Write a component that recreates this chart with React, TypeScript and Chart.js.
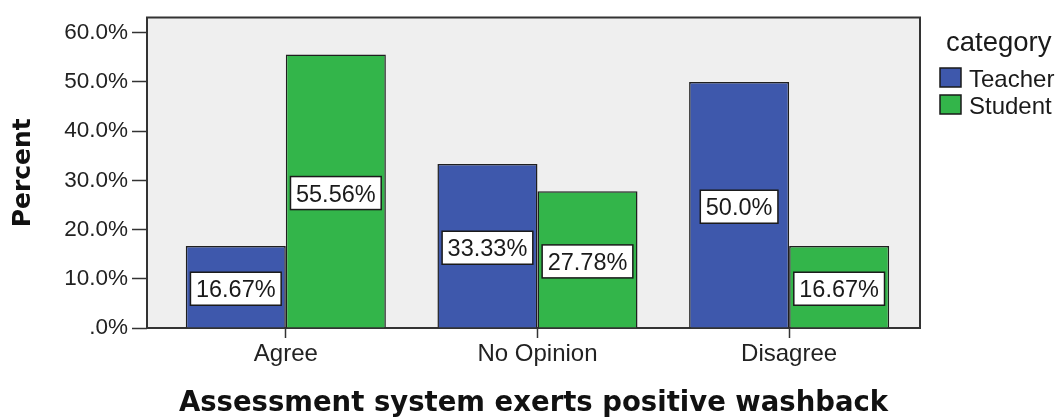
import React, { useEffect, useRef } from 'react';
import { Chart, registerables } from 'chart.js';

Chart.register(...registerables);

const categories = ['Agree', 'No Opinion', 'Disagree'];
const seriesNames = ['Teacher', 'Student'];
const teacherValues = [16.67, 33.33, 50.0];
const studentValues = [55.56, 27.78, 16.67];
const seriesColors = ['#3e58ac', '#33b54a'];
const yTickValues = [0, 10, 20, 30, 40, 50, 60];
const legendTitle = 'category';
const xTitle = 'Assessment system exerts positive washback';
const yTitle = 'Percent';

const fmtValue = (v: number) => (Number.isInteger(v) ? v.toFixed(1) : v.toFixed(2)) + '%';
const fmtTick = (v: number) => (v === 0 ? '.0%' : v.toFixed(1) + '%');

const SANS = '"Liberation Sans", Arial, sans-serif';
const BOLD = '"DejaVu Sans", sans-serif';

const bgPlugin = {
  id: 'bgFrame',
  beforeDraw(chart: any) {
    const { ctx, chartArea } = chart;
    const { left, top, right, bottom } = chartArea;
    ctx.save();
    ctx.fillStyle = '#efefef';
    ctx.fillRect(left, top, right - left, bottom - top);
    ctx.restore();
  },
  beforeDatasetsDraw(chart: any) {
    const { ctx, chartArea } = chart;
    const { left, top, right, bottom } = chartArea;
    ctx.save();
    ctx.strokeStyle = '#333';
    ctx.lineWidth = 2;
    ctx.strokeRect(left, top, right - left, bottom - top);
    ctx.restore();
  },
};

const labelPlugin = {
  id: 'valueBoxes',
  afterDatasetsDraw(chart: any) {
    const { ctx } = chart;
    ctx.save();
    ctx.font = `23.5px ${SANS}`;
    chart.data.datasets.forEach((ds: any, di: number) => {
      const meta = chart.getDatasetMeta(di);
      meta.data.forEach((el: any, i: number) => {
        const v = ds.data[i].y;
        const text = fmtValue(v);
        const cx = el.x;
        const cy = (el.y + el.base) / 2 + 2;
        const w = ctx.measureText(text).width + 11;
        const h = 33;
        ctx.fillStyle = '#ffffff';
        ctx.fillRect(cx - w / 2, cy - h / 2, w, h);
        ctx.strokeStyle = '#1a1a1a';
        ctx.lineWidth = 1.5;
        ctx.strokeRect(cx - w / 2, cy - h / 2, w, h);
        ctx.fillStyle = '#1a1a1a';
        ctx.textAlign = 'center';
        ctx.textBaseline = 'middle';
        ctx.fillText(text, cx, cy + 2);
      });
    });
    ctx.restore();
  },
};

const legendPlugin = {
  id: 'customLegend',
  afterDraw(chart: any) {
    const { ctx } = chart;
    ctx.save();
    ctx.fillStyle = '#1a1a1a';
    ctx.textAlign = 'left';
    ctx.textBaseline = 'alphabetic';
    ctx.font = `27.5px ${SANS}`;
    ctx.fillText(legendTitle, 946, 51);
    ctx.font = `24px ${SANS}`;
    chart.data.datasets.forEach((ds: any, i: number) => {
      const y0 = 68 + i * 27;
      ctx.fillStyle = ds.backgroundColor;
      ctx.fillRect(940, y0, 21, 19);
      ctx.strokeStyle = '#1a1a1a';
      ctx.lineWidth = 1.5;
      ctx.strokeRect(940, y0, 21, 19);
      ctx.fillStyle = '#1a1a1a';
      ctx.fillText(ds.label, 969, y0 + 19);
    });
    ctx.restore();
  },
};

export default function App() {
  const canvasRef = useRef<HTMLCanvasElement | null>(null);

  useEffect(() => {
    document.body.style.margin = '0';
    const canvas = canvasRef.current;
    if (!canvas) return;
    const seriesValues = [teacherValues, studentValues];
    const chart = new Chart(canvas, {
      type: 'bar',
      data: {
        datasets: seriesNames.map((name, si) => ({
          label: name,
          data: seriesValues[si].map((v, i) => ({ x: i, y: v })),
          backgroundColor: seriesColors[si],
          borderColor: '#1f1f1f',
          borderWidth: 1.5,
          categoryPercentage: 0.795,
          barPercentage: 1.0,
        })),
      },
      options: {
        animation: false,
        responsive: false,
        devicePixelRatio: 1,
        layout: { padding: { left: 0, right: 137, top: 14, bottom: 0 } },
        plugins: {
          legend: { display: false },
          tooltip: { enabled: false },
        },
        scales: {
          x: {
            type: 'linear',
            min: -0.5516,
            max: 2.52,
            offset: false,
            afterBuildTicks: (s: any) => {
              s.ticks = categories.map((_, i) => ({ value: i }));
            },
            afterFit: (s: any) => {
              s.height = 90;
            },
            ticks: {
              callback: (v: any) => categories[v] ?? '',
              font: { family: SANS, size: 24 },
              color: '#222',
              padding: 2,
              maxRotation: 0,
              autoSkip: false,
            },
            grid: {
              drawOnChartArea: false,
              drawTicks: true,
              tickLength: 10,
              tickColor: '#333',
              tickWidth: 1.5,
              offset: false,
            },
            border: { display: false },
            title: {
              display: true,
              text: xTitle,
              font: { family: BOLD, weight: 'bold', size: 27.5, lineHeight: 1 },
              color: '#111',
              padding: { top: 0, bottom: 0 },
            },
          },
          y: {
            min: 0,
            max: 63.1,
            afterBuildTicks: (s: any) => {
              s.ticks = yTickValues.map((v) => ({ value: v }));
            },
            afterFit: (s: any) => {
              s.width = 147;
            },
            ticks: {
              callback: (v: any) => fmtTick(Number(v)),
              font: { family: SANS, size: 22.5 },
              color: '#222',
              padding: 4,
            },
            grid: {
              drawOnChartArea: false,
              drawTicks: true,
              tickLength: 15,
              tickColor: '#333',
              tickWidth: 1.5,
            },
            border: { display: false },
            title: {
              display: true,
              text: yTitle,
              font: { family: BOLD, weight: 'bold', size: 25 },
              color: '#111',
              padding: { top: 8, bottom: 0 },
            },
          },
        },
      } as any,
      plugins: [bgPlugin, labelPlugin, legendPlugin],
    });
    return () => chart.destroy();
  }, []);

  return (
    <div style={{ position: 'absolute', left: 0, top: 0, width: 1057, height: 418 }}>
      <canvas ref={canvasRef} width={1057} height={418} />
    </div>
  );
}
